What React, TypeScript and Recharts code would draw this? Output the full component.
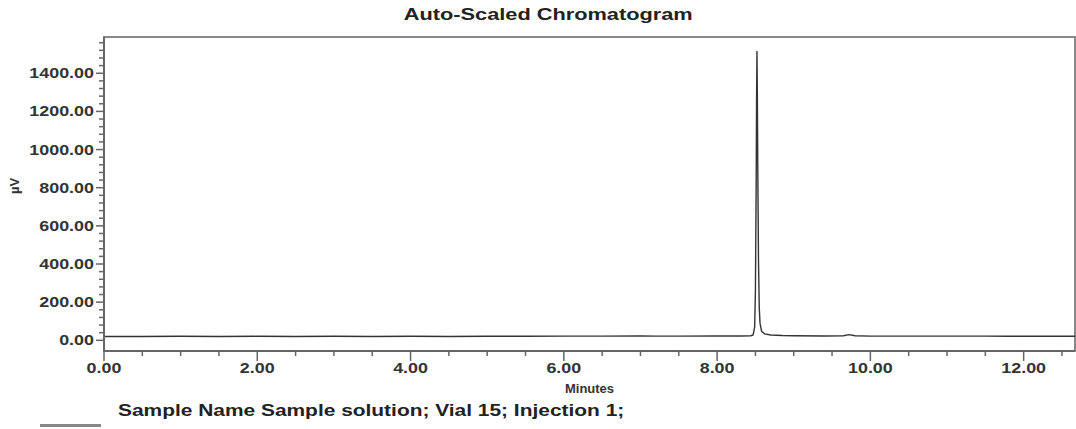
import { LineChart, Line, XAxis, YAxis, ReferenceArea } from 'recharts'

// retention time (min) and detector response
const times = [
  0.0, 0.5, 1.0, 1.5, 2.0, 2.5, 3.0, 3.5, 4.0, 4.5, 5.0, 5.5, 6.0, 6.5, 7.0, 7.2, 7.5, 8.0, 8.3,
  8.44, 8.47, 8.49, 8.5, 8.51, 8.515, 8.52, 8.525, 8.53, 8.54, 8.55, 8.56, 8.58, 8.62, 8.7, 8.85,
  9.0, 9.4, 9.65, 9.72, 9.8, 10.0, 10.5, 11.0, 11.5, 11.8, 12.0, 12.67,
]
const response = [
  20, 20, 21, 20, 21, 20, 21, 20, 21, 20, 21, 21, 22, 22, 23, 22, 22, 23, 23,
  24, 28, 70, 260, 820, 1250, 1517, 1300, 950, 420, 170, 90, 48, 34, 28, 25,
  24, 23, 24, 30, 24, 22, 22, 22, 22, 21, 21, 21,
]

const X_MAJOR = [0, 2, 4, 6, 8, 10, 12]
const Y_MAJOR = [0, 200, 400, 600, 800, 1000, 1200, 1400]
const X_MINOR_STEP = 0.5
const Y_MINOR_STEP = 40
const X_DOMAIN: [number, number] = [0, 12.67]
const Y_DOMAIN: [number, number] = [-56, 1590]

const xTicks: number[] = []
for (let v = 0; v <= X_DOMAIN[1]; v = Math.round((v + X_MINOR_STEP) * 100) / 100) xTicks.push(v)
const yTicks: number[] = []
for (let v = 0; v <= Y_DOMAIN[1]; v += Y_MINOR_STEP) yTicks.push(v)

const data = times.map((t, i) => ({ t, v: response[i] }))

const AXIS = '#666'
const FONT = '"Liberation Sans", Arial, sans-serif'

const YTick = ({ x, y, payload }: any) => {
  const major = Y_MAJOR.includes(payload.value)
  return (
    <g transform={`translate(${x},${y})`}>
      <line x1={major ? -8 : -5} x2={0} y1={0} y2={0} stroke={AXIS} strokeWidth={1.5} />
      {major && (
        <g transform="translate(-10,0) scale(1.28,1)">
          <text x={0} y={0} dy={5} textAnchor="end" fill="#333" fontSize={14} fontWeight="bold" fontFamily={FONT}>
            {payload.value.toFixed(2)}
          </text>
        </g>
      )}
    </g>
  )
}

const XTick = ({ x, y, payload }: any) => {
  const major = X_MAJOR.includes(payload.value)
  return (
    <g transform={`translate(${x},${y})`}>
      <line x1={0} x2={0} y1={0} y2={major ? 10 : 5} stroke={AXIS} strokeWidth={1.5} />
      {major && (
        <g transform="translate(0,22) scale(1.28,1)">
          <text x={0} y={0} textAnchor="middle" fill="#333" fontSize={14} fontWeight="bold" fontFamily={FONT}>
            {payload.value.toFixed(2)}
          </text>
        </g>
      )}
    </g>
  )
}

export default function App() {
  return (
    <div style={{ position: 'absolute', left: 0, top: 0, width: 1076, height: 429, background: '#fff', fontFamily: FONT }}>
      <div style={{ position: 'absolute', left: 10, top: 5, width: 1076, textAlign: 'center', lineHeight: '20px' }}>
        <span style={{ display: 'inline-block', transform: 'scaleX(1.36)', fontSize: 16, fontWeight: 'bold', color: '#222' }}>
          Auto-Scaled Chromatogram
        </span>
      </div>
      <LineChart width={1076} height={429} data={data} margin={{ top: 37, right: 1, bottom: 48, left: 0 }}>
        <ReferenceArea x1={X_DOMAIN[0]} x2={X_DOMAIN[1]} y1={Y_DOMAIN[0]} y2={Y_DOMAIN[1]} fill="none" stroke="#888" strokeWidth={2} />
        <XAxis
          dataKey="t"
          type="number"
          domain={X_DOMAIN}
          allowDataOverflow
          ticks={xTicks}
          interval={0}
          tick={<XTick />}
          tickSize={0}
          tickMargin={0}
          tickLine={false}
          axisLine={{ stroke: AXIS, strokeWidth: 2 }}
          height={30}
          label={{ value: 'Minutes', position: 'insideBottom', offset: -12, fill: '#333', fontSize: 13, fontWeight: 'bold', fontFamily: FONT }}
        />
        <YAxis
          type="number"
          domain={Y_DOMAIN}
          allowDataOverflow
          ticks={yTicks}
          interval={0}
          tick={<YTick />}
          tickSize={0}
          tickMargin={0}
          tickLine={false}
          axisLine={{ stroke: AXIS, strokeWidth: 2 }}
          width={104}
          label={{ value: 'µV', angle: -90, position: 'insideLeft', offset: 14, fill: '#333', fontSize: 13, fontWeight: 'bold', fontFamily: FONT }}
        />
        <Line type="linear" dataKey="v" stroke="#333" strokeWidth={1.4} dot={false} isAnimationActive={false} />
      </LineChart>
      <div style={{ position: 'absolute', left: 40, top: 424, width: 61, height: 3, background: '#888' }} />
      <div style={{ position: 'absolute', left: 118, top: 401, whiteSpace: 'nowrap', lineHeight: '20px' }}>
        <span style={{ display: 'inline-block', transform: 'scaleX(1.23)', transformOrigin: 'left', fontSize: 17, fontWeight: 'bold', color: '#222' }}>
          Sample Name Sample solution; Vial 15; Injection 1;
        </span>
      </div>
    </div>
  )
}
